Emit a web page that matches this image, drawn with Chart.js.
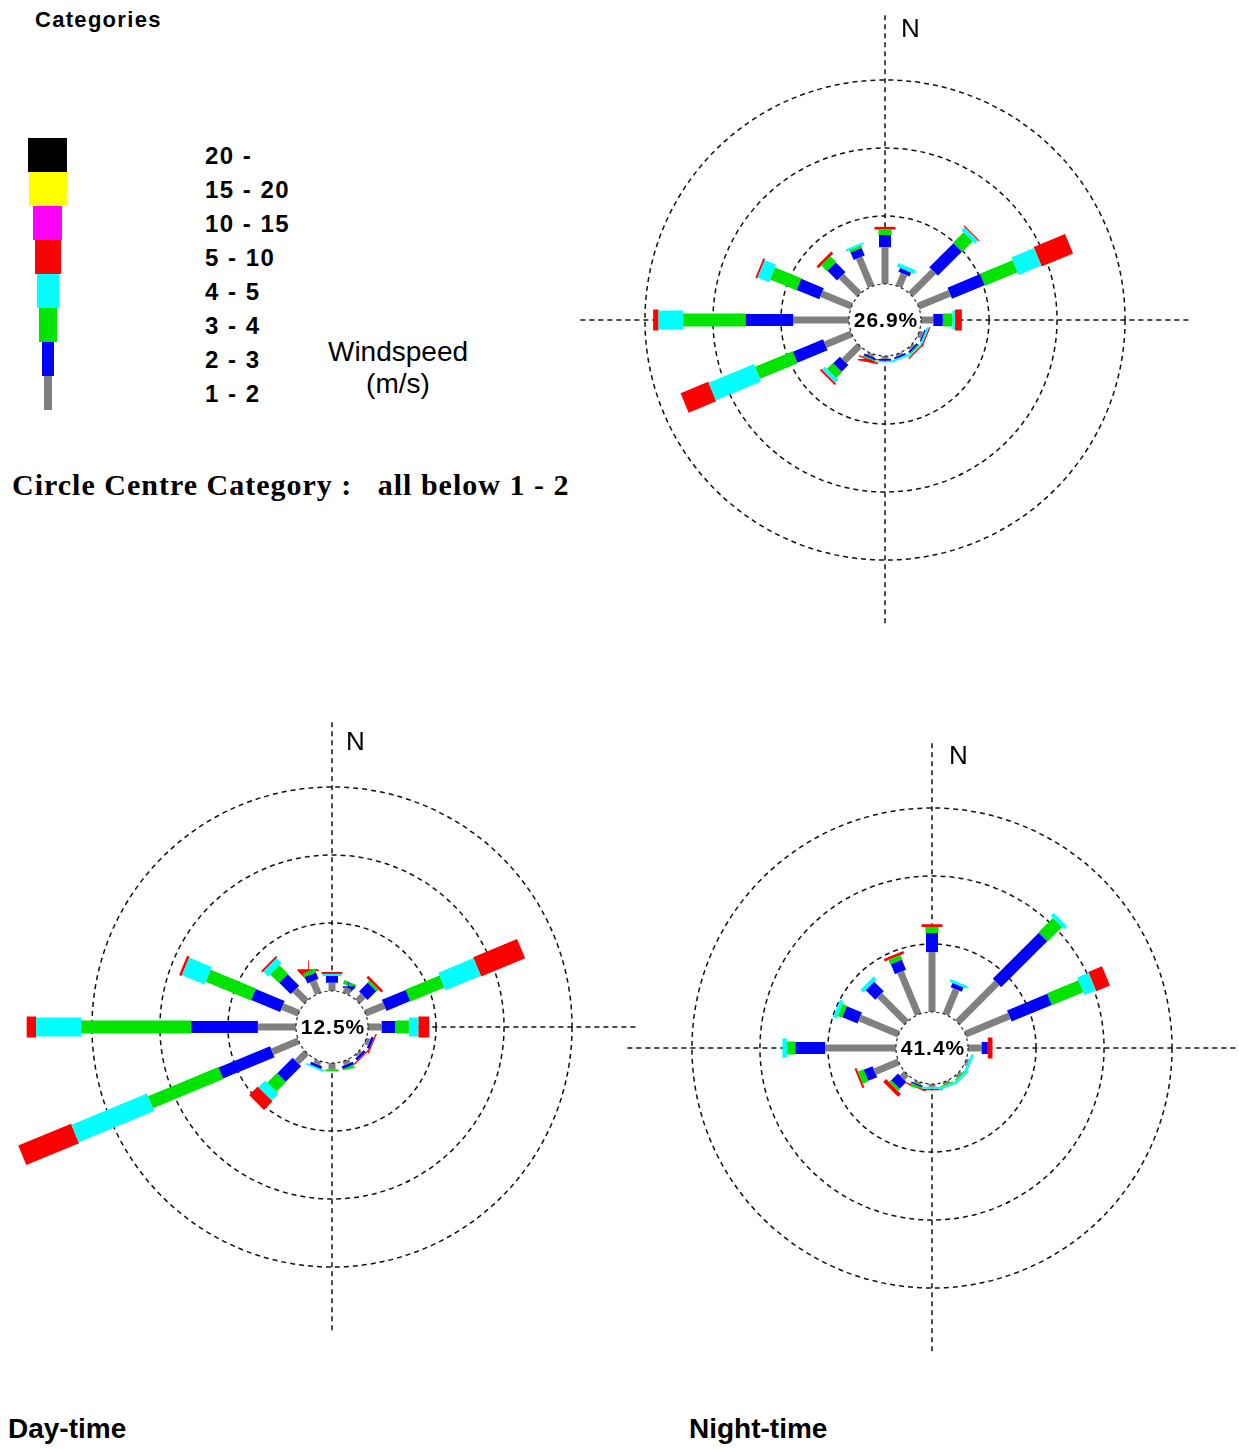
<!DOCTYPE html>
<html>
<head>
<meta charset="utf-8">
<script src="https://cdn.jsdelivr.net/npm/chart.js@4/dist/chart.umd.min.js"></script>
<style>
  html, body { margin: 0; padding: 0; background: #fff; }
  #page { position: relative; width: 1239px; height: 1450px; overflow: hidden; background: #fff; }
  #page canvas { position: absolute; }
  .txt { position: absolute; white-space: pre; color: #000; }
  .lgTitle { font: bold 22px "Liberation Sans", Arial, sans-serif; letter-spacing: 1.3px; }
  .lgLabel { font: bold 24px "Liberation Sans", Arial, sans-serif; letter-spacing: 1.5px; line-height: 24px; }
  .unit { font: 28px "Liberation Sans", Arial, sans-serif; line-height: 32px; text-align: center; }
  .centreCat { font: bold 30px "Liberation Serif", "Times New Roman", serif; letter-spacing: 1px; }
  .north { font: 26px "Liberation Sans", Arial, sans-serif; line-height: 26px; }
  .calm { font: bold 21px "Liberation Sans", Arial, sans-serif; letter-spacing: 1px; width: 100px; text-align: center; line-height: 24px; }
  .caption { font: bold 28px "Liberation Sans", Arial, sans-serif; }
  .swatch { position: absolute; }
</style>
</head>
<body>
<div id="page">
  <div class="txt lgTitle" style="left:35px; top:7px;">Categories</div>
  <div id="legend"></div>
  <div class="txt unit" style="left:318px; top:336px; width:160px;">Windspeed
(m/s)</div>
  <div class="txt centreCat" style="left:12px; top:468px;">Circle Centre Category :   all below 1 - 2</div>

  <canvas id="roseAll" width="680" height="680" style="left:545px; top:-20px;"></canvas>
  <canvas id="roseDay" width="680" height="680" style="left:-8px; top:687px;"></canvas>
  <canvas id="roseNight" width="680" height="680" style="left:592px; top:708px;"></canvas>

  <div class="txt north" style="left:901px; top:15px;">N</div>
  <div class="txt north" style="left:346px; top:728px;">N</div>
  <div class="txt north" style="left:949px; top:742px;">N</div>

  <div class="txt calm" id="calmAll" style="left:836px; top:308px;"></div>
  <div class="txt calm" id="calmDay" style="left:283px; top:1015px;"></div>
  <div class="txt calm" id="calmNight" style="left:883px; top:1036px;"></div>

  <div class="txt caption" style="left:8px; top:1413px;">Day-time</div>
  <div class="txt caption" style="left:689px; top:1413px;">Night-time</div>
</div>
<script>
// Wind roses: all hours, day-time, night-time

// --- Data ---
const DIRECTIONS = ['N', 'NNE', 'NE', 'ENE', 'E', 'ESE', 'SE', 'SSE', 'S', 'SSW', 'SW', 'WSW', 'W', 'WNW', 'NW', 'NNW'];
const CATEGORIES = ['1 - 2', '2 - 3', '3 - 4', '4 - 5', '5 - 10', '10 - 15', '15 - 20', '20 -'];
const CAT_COLORS = ['#808080', '#0000ff', '#00e400', '#00ffff', '#ff0000', '#ff00ff', '#ffff00', '#000000'];
const CALM_PCTS = [26.9, 12.5, 41.4]; // all, day, night
const RING_PCTS = [5, 10, 15];

// frequency (%) per direction, one list per windspeed category
const all12  = [2.7, 1.0, 2.4, 2.5, 0.9, 0.3, 0.2, 0.15, 0.2, 0.2, 1.6, 2.1, 4.1, 2.4, 1.9, 2.3];
const all23  = [0.9, 0.3, 2.5, 2.6, 0.7, 0.1, 0.15, 0.15, 0.15, 0.15, 0.7, 2.4, 3.5, 1.8, 1.0, 0.6];
const all34  = [0.4, 0, 1.1, 2.6, 0.7, 0, 0.1, 0, 0, 0.1, 0.6, 3.0, 4.6, 2.1, 0.6, 0.2];
const all45  = [0, 0.3, 0.3, 1.8, 0.2, 0.15, 0.1, 0.15, 0.1, 0, 0.3, 3.6, 1.8, 0.9, 0, 0.15];
const all510 = [0.2, 0, 0.1, 2.5, 0.5, 0.1, 0.1, 0, 0, 0.1, 0.15, 2.2, 0.4, 0.15, 0.2, 0];

const day12  = [0.6, 0.45, 0.6, 1.5, 1.0, 0.3, 0.2, 0.3, 0.45, 0.3, 1.0, 2.1, 2.8, 1.3, 1.2, 1.0];
const day23  = [0.5, 0.15, 0.9, 1.9, 1.0, 0.2, 0.2, 0.2, 0, 0.2, 1.6, 4.1, 4.9, 2.3, 1.2, 0.5];
const day34  = [0, 0.3, 0.2, 2.7, 1.0, 0, 0, 0.1, 0.15, 0, 1.0, 5.6, 8.1, 3.6, 0.9, 0.3];
const day45  = [0.15, 0, 0, 2.8, 0.7, 0, 0, 0, 0, 0.15, 0.7, 6.0, 3.3, 1.8, 0.5, 0];
const day510 = [0.15, 0, 0.2, 3.5, 0.8, 0.1, 0.1, 0, 0, 0, 0.9, 4.2, 0.7, 0.2, 0.15, 0.15];

const night12  = [4.4, 2.0, 4.1, 3.5, 1.0, 0.2, 0.2, 0.2, 0.2, 0.2, 0.45, 1.9, 5.2, 3.1, 2.8, 3.4];
const night23  = [1.4, 0.35, 4.8, 3.2, 0.45, 0, 0, 0, 0, 0.1, 0.7, 0.7, 2.2, 1.2, 1.0, 0.8];
const night34  = [0.45, 0, 1.5, 2.5, 0, 0, 0.1, 0.1, 0, 0.1, 0.2, 0.45, 0.6, 0.35, 0, 0.35];
const night45  = [0, 0.2, 0.3, 0.9, 0, 0.2, 0.2, 0.15, 0.15, 0, 0, 0, 0.35, 0.3, 0.3, 0];
const night510 = [0.2, 0, 0, 1.1, 0.35, 0, 0, 0, 0.1, 0.1, 0.3, 0.15, 0, 0, 0, 0.2];

// --- Look ---
const BAR_WIDTHS = [7, 12, 13, 19, 21, 23, 25, 27];      // px, per category
const LEGEND_WIDTHS = [8, 12, 18, 22, 26, 29, 38, 39];   // px, per category
const CALM_RADIUS = 2.65;  // centre circle radius, in % units
const AXIS_HALF = 25;      // 680px canvas -> 13.6 px per %
const CROSS_EXTENT = 22.4;

// --- Legend ---
const legend = document.getElementById('legend');
CATEGORIES.slice().reverse().forEach((cat, i) => {
  const c = CATEGORIES.length - 1 - i;
  const sw = document.createElement('div');
  sw.className = 'swatch';
  sw.style.cssText = `left:${47.5 - LEGEND_WIDTHS[c] / 2}px; top:${138 + i * 34}px; width:${LEGEND_WIDTHS[c]}px; height:34px; background:${CAT_COLORS[c]};`;
  legend.appendChild(sw);
  const lb = document.createElement('div');
  lb.className = 'txt lgLabel';
  lb.style.cssText = `left:205px; top:${144 + i * 34}px;`;
  lb.textContent = cat;
  legend.appendChild(lb);
});

// --- Grid plugin: dashed rings, cross hairs, centre circle ---
const roseGrid = {
  id: 'roseGrid',
  beforeDatasetsDraw(chart) {
    const { ctx, scales: { x, y } } = chart;
    const cx = x.getPixelForValue(0), cy = y.getPixelForValue(0);
    const k = x.getPixelForValue(1) - cx;
    ctx.save();
    ctx.strokeStyle = '#111';
    ctx.lineWidth = 1.5;
    ctx.setLineDash([5, 4]);
    RING_PCTS.forEach(p => {
      ctx.beginPath();
      ctx.arc(cx, cy, (CALM_RADIUS + p) * k, 0, Math.PI * 2);
      ctx.stroke();
    });
    ctx.beginPath();
    ctx.moveTo(cx, y.getPixelForValue(CROSS_EXTENT));
    ctx.lineTo(cx, y.getPixelForValue(-CROSS_EXTENT));
    ctx.moveTo(x.getPixelForValue(-CROSS_EXTENT), cy);
    ctx.lineTo(x.getPixelForValue(CROSS_EXTENT), cy);
    ctx.stroke();
    ctx.restore();
  },
  afterDatasetsDraw(chart) {
    const { ctx, scales: { x, y } } = chart;
    const cx = x.getPixelForValue(0), cy = y.getPixelForValue(0);
    const k = x.getPixelForValue(1) - cx;
    ctx.save();
    ctx.beginPath();
    ctx.arc(cx, cy, CALM_RADIUS * k, 0, Math.PI * 2);
    ctx.fillStyle = '#fff';
    ctx.fill();
    ctx.strokeStyle = '#222';
    ctx.lineWidth = 1.2;
    ctx.setLineDash([3, 3]);
    ctx.stroke();
    ctx.restore();
  }
};

function buildRose(canvasId, series) {
  const datasets = [];
  DIRECTIONS.forEach((dir, d) => {
    const ang = d * 22.5 * Math.PI / 180;
    let r = CALM_RADIUS;
    series.forEach((vals, c) => {
      const v = vals[d];
      if (!v) return;
      const r2 = r + v;
      datasets.push({
        label: dir + ' ' + CATEGORIES[c],
        data: [
          { x: r * Math.sin(ang), y: r * Math.cos(ang) },
          { x: r2 * Math.sin(ang), y: r2 * Math.cos(ang) }
        ],
        showLine: true,
        borderColor: CAT_COLORS[c],
        backgroundColor: CAT_COLORS[c],
        borderWidth: BAR_WIDTHS[c],
        borderCapStyle: 'butt',
        borderJoinStyle: 'bevel', // vertical bars otherwise get miter spikes
        pointRadius: 0,
        pointHoverRadius: 0,
        clip: false
      });
      r = r2;
    });
  });
  return new Chart(document.getElementById(canvasId), {
    type: 'scatter',
    data: { datasets },
    options: {
      responsive: false,
      animation: false,
      devicePixelRatio: 1,
      events: [],
      layout: { padding: 0, autoPadding: false },
      scales: {
        x: { type: 'linear', min: -AXIS_HALF, max: AXIS_HALF, display: false },
        y: { type: 'linear', min: -AXIS_HALF, max: AXIS_HALF, display: false }
      },
      plugins: { legend: { display: false }, tooltip: { enabled: false } }
    },
    plugins: [roseGrid]
  });
}

buildRose('roseAll', [all12, all23, all34, all45, all510]);
buildRose('roseDay', [day12, day23, day34, day45, day510]);
buildRose('roseNight', [night12, night23, night34, night45, night510]);

document.getElementById('calmAll').textContent = CALM_PCTS[0].toFixed(1) + '%';
document.getElementById('calmDay').textContent = CALM_PCTS[1].toFixed(1) + '%';
document.getElementById('calmNight').textContent = CALM_PCTS[2].toFixed(1) + '%';
</script>
</body>
</html>
